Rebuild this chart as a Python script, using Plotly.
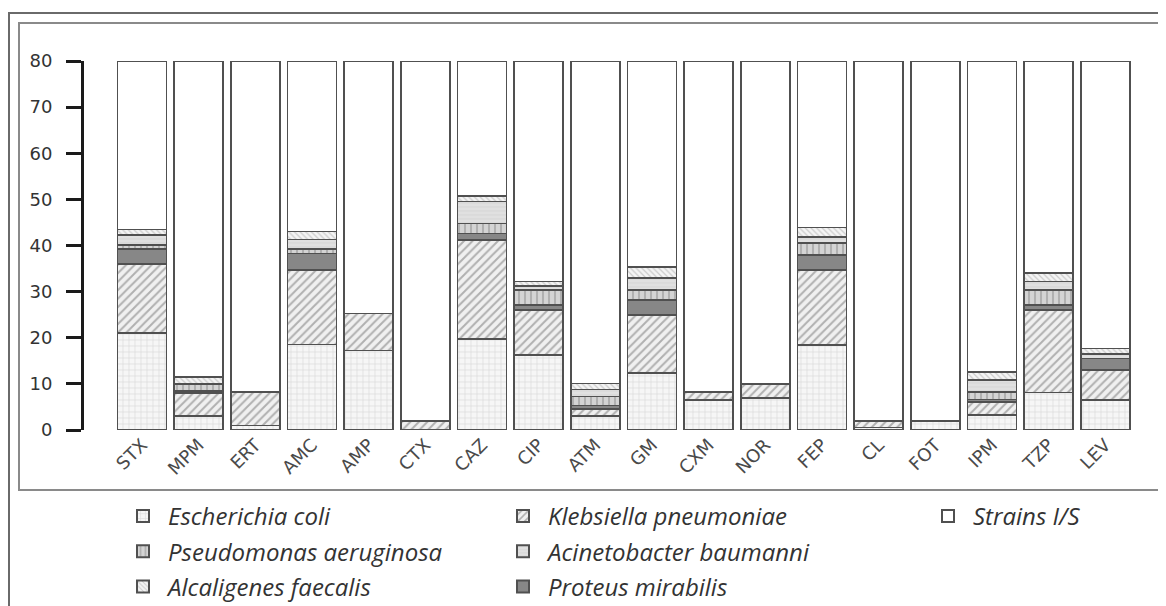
import plotly.graph_objects as go

categories = ["STX", "MPM", "ERT", "AMC", "AMP", "CTX", "CAZ", "CIP", "ATM",
              "GM", "CXM", "NOR", "FEP", "CL", "FOT", "IPM", "TZP", "LEV"]

e_coli      = [21.0, 3.0, 1.0, 18.5, 17.2, 0.0, 19.7, 16.3, 3.0, 12.3, 6.5, 7.0, 18.4, 0.5, 2.0, 3.2, 8.1, 6.5]
klebsiella  = [15.0, 5.0, 7.3, 16.2, 8.1, 2.0, 21.5, 9.7, 1.5, 12.6, 1.8, 3.0, 16.3, 1.5, 0.0, 2.9, 17.9, 6.5]
proteus     = [3.3, 0.5, 0.0, 3.6, 0.0, 0.0, 1.4, 1.1, 0.8, 3.3, 0.0, 0.0, 3.2, 0.0, 0.0, 0.5, 1.1, 2.5]
pseudomonas = [0.8, 1.5, 0.0, 1.0, 0.0, 0.0, 2.2, 3.3, 2.0, 2.2, 0.0, 0.0, 2.6, 0.0, 0.0, 1.7, 3.3, 0.0]
acinetobacter = [2.2, 0.0, 0.0, 2.0, 0.0, 0.0, 4.7, 0.8, 1.5, 2.5, 0.0, 0.0, 1.4, 0.0, 0.0, 2.5, 1.8, 1.0]
alcaligenes = [1.2, 1.5, 0.0, 1.7, 0.0, 0.0, 1.2, 1.0, 1.3, 2.4, 0.0, 0.0, 2.0, 0.0, 0.0, 1.8, 1.9, 1.2]
total_strains = 80
y_ticks = [0, 10, 20, 30, 40, 50, 60, 70, 80]

resistant = [sum(v) for v in zip(e_coli, klebsiella, proteus, pseudomonas, acinetobacter, alcaligenes)]
strains_is = [round(total_strains - r, 2) for r in resistant]

LINE = dict(color="#505050", width=1.6)

series = [
    # name, values, pattern, legend, rank
    ("Escherichia coli", e_coli, dict(shape="+", fgcolor="#c4c4c4", bgcolor="#f6f6f6", size=6, solidity=0.25), "legend", 1),
    ("Klebsiella pneumoniae", klebsiella, dict(shape="/", fgcolor="#707070", bgcolor="#f0f0f0", size=6, solidity=0.33), "legend2", 1),
    ("Proteus mirabilis", proteus, dict(shape="", fgcolor="#878787", bgcolor="#878787"), "legend2", 3),
    ("Pseudomonas aeruginosa", pseudomonas, dict(shape="|", fgcolor="#8c8c8c", bgcolor="#d4d4d4", size=6, solidity=0.35), "legend", 2),
    ("Acinetobacter baumanni", acinetobacter, dict(shape="-", fgcolor="#cfcfcf", bgcolor="#e0e0e0", size=4, solidity=0.3), "legend2", 2),
    ("Alcaligenes faecalis", alcaligenes, dict(shape="\\", fgcolor="#a0a0a0", bgcolor="#f4f4f4", size=4, solidity=0.3), "legend", 3),
    ("Strains I/S", strains_is, dict(shape="", fgcolor="#ffffff", bgcolor="#ffffff"), "legend3", 1),
]

fig = go.Figure()
for name, vals, pat, leg, rank in series:
    solid = pat["shape"] == ""
    fig.add_trace(go.Bar(
        x=categories, y=vals, name=name,
        marker=dict(color=pat["bgcolor"], line=LINE,
                    pattern=None if solid else pat),
        legend=leg, legendrank=rank, legendgroup=name,
        hoverinfo="x+y+name",
    ))

# page has an 8px body margin; work in page pixels and convert
OFF = 8
W, H = 1166 - OFF, 606 - OFF
L, T = 84 - OFF, 61 - OFF
PLOT_R, PLOT_B = 1162 - OFF, 430 - OFF
R, B = W - PLOT_R, H - PLOT_B
pw, ph = PLOT_R - L, PLOT_B - T

def px(page_x):
    return (page_x - OFF - L) / pw

def py(page_y):
    return (PLOT_B - (page_y - OFF)) / ph

legend_font = dict(family="Open Sans, DejaVu Sans, sans-serif", size=24, color="#333333", style="italic")
leg_common = dict(orientation="v", traceorder="grouped", tracegroupgap=1,
                  font=legend_font, yanchor="top", xanchor="left",
                  bgcolor="rgba(0,0,0,0)", itemwidth=40, itemsizing="constant")

fig.update_layout(
    width=W, height=H,
    margin=dict(l=L, r=R, t=T, b=B, pad=0, autoexpand=False),
    paper_bgcolor="white", plot_bgcolor="white",
    barmode="stack", bargap=0.135,
    showlegend=True,
    legend=dict(x=px(118), y=py(494), **leg_common),
    legend2=dict(x=px(498), y=py(494), **leg_common),
    legend3=dict(x=px(923), y=py(494), **leg_common),
    xaxis=dict(type="category", range=[-1.024, 18.0], showline=False, showgrid=False,
               ticks="", tickangle=-45, automargin=False,
               tickfont=dict(family="DejaVu Sans, sans-serif", size=18, color="#4a4a4a")),
    yaxis=dict(range=[0, 80], tickvals=y_ticks, showgrid=False, zeroline=False,
               showline=True, linewidth=3, linecolor="#1a1a1a", automargin=False,
               ticks="outside", ticklen=15, tickwidth=3, tickcolor="#1a1a1a",
               ticklabelstandoff=10,
               tickfont=dict(family="DejaVu Sans, sans-serif", size=18, color="#333333")),
    shapes=[
        dict(type="rect", xref="paper", yref="paper",
             x0=px(9), x1=px(1185), y0=py(650), y1=py(13),
             line=dict(color="#6a6a6a", width=2), layer="below"),
        dict(type="rect", xref="paper", yref="paper",
             x0=px(19), x1=px(1163), y0=py(490), y1=py(23),
             line=dict(color="#8a8a8a", width=2), layer="below"),
    ],
)

fig.write_html("out.html")
